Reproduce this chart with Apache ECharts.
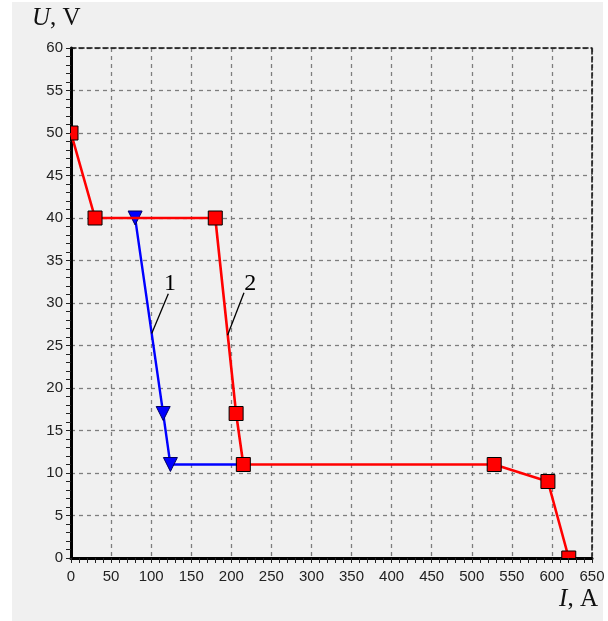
<!DOCTYPE html>
<html>
<head>
<meta charset="utf-8">
<script src="https://cdn.jsdelivr.net/npm/echarts@6/dist/echarts.min.js"></script>
<style>
html,body{margin:0;padding:0;background:#ffffff;}
#bg{position:absolute;left:12px;top:2px;width:591px;height:619px;background:#f0f0f0;}
#chart{position:absolute;left:0;top:0;width:608px;height:621px;}
</style>
</head>
<body>
<div id="bg"></div>
<div id="chart"></div>
<script>
// ---- data ----
const xTicksMin = 0, xTicksMax = 650, xTickStep = 50;
const yTicksMin = 0, yTicksMax = 60, yTickStep = 5;

// curve 1 (blue, inverted triangles) : I (A), U (V)
const curve1I = [80, 115, 124, 215];
const curve1U = [40, 17, 11, 11];
const curve1Marked = [true, true, true, false];

// curve 2 (red, squares)
const curve2I = [0, 30, 180, 206, 215, 528, 595, 621];
const curve2U = [50, 40, 40, 17, 11, 11, 9, 0];

// annotation labels and leader lines (data coordinates)
const annLabels = ['1', '2'];
const annTextPos = [[123.5, 32.3], [223.5, 32.3]];
const annLineFrom = [[121.4, 31.1], [215.8, 31.2]];
const annLineTo = [[100.7, 26.4], [195.3, 26.2]];

const xName = 'I';
const xUnit = ', A';
const yName = 'U';
const yUnit = ', V';

// ---- chart ----
const chart = echarts.init(document.getElementById('chart'), null, {renderer: 'canvas'});

const blueData = curve1I.map((x, i) => curve1Marked[i]
  ? {value: [x, curve1U[i]]}
  : {value: [x, curve1U[i]], symbol: 'none'});
const redData = curve2I.map((x, i) => [x, curve2U[i]]);
const annData = annLabels.map((l, i) => [annTextPos[i][0], annTextPos[i][1],
  annLineFrom[i][0], annLineFrom[i][1], annLineTo[i][0], annLineTo[i][1]]);

const tickLabelStyle = {fontFamily: '"Liberation Sans", Arial, sans-serif', fontSize: 15, color: '#222'};
const gridLine = {show: true, lineStyle: {color: '#7e7e7e', width: 1.3, type: [4, 4]}};
const serif = '"Liberation Serif", "Times New Roman", serif';

const option = {
  animation: false,
  backgroundColor: 'transparent',
  grid: {left: 71, top: 48, right: 16, bottom: 63, containLabel: false},
  xAxis: [{
    type: 'value', min: xTicksMin, max: xTicksMax, interval: xTickStep,
    axisLine: {show: true, onZero: false, lineStyle: {color: '#000', width: 3}},
    axisTick: {show: true, length: 5, lineStyle: {color: '#222', width: 1}},
    minorTick: {show: true, splitNumber: 5, length: 5, lineStyle: {color: '#222', width: 1}},
    axisLabel: Object.assign({margin: 11}, tickLabelStyle),
    splitLine: gridLine
  }, {
    type: 'value', position: 'top', min: xTicksMin, max: xTicksMax, interval: xTickStep,
    axisLine: {show: true, onZero: false, lineStyle: {color: '#111', width: 1.5, type: [5, 3]}},
    axisTick: {show: false}, axisLabel: {show: false}, splitLine: {show: false}
  }],
  yAxis: [{
    type: 'value', min: yTicksMin, max: yTicksMax, interval: yTickStep,
    axisLine: {show: true, onZero: false, lineStyle: {color: '#000', width: 3}},
    axisTick: {show: true, length: 5, lineStyle: {color: '#222', width: 1}},
    minorTick: {show: true, splitNumber: 5, length: 5, lineStyle: {color: '#222', width: 1}},
    axisLabel: Object.assign({margin: 8}, tickLabelStyle),
    splitLine: gridLine
  }, {
    type: 'value', position: 'right', min: yTicksMin, max: yTicksMax, interval: yTickStep,
    axisLine: {show: true, onZero: false, lineStyle: {color: '#111', width: 1.5, type: [5, 3]}},
    axisTick: {show: false}, axisLabel: {show: false}, splitLine: {show: false}
  }],
  graphic: [{
    type: 'text', left: 32, top: 6,
    style: {
      text: '{i|' + yName + '}{r|' + yUnit + '}',
      rich: {
        i: {fontFamily: serif, fontStyle: 'italic', fontSize: 25, fill: '#111'},
        r: {fontFamily: serif, fontSize: 25, fill: '#111'}
      }
    }
  }, {
    type: 'text', right: 10, top: 587,
    style: {
      text: '{i|' + xName + '}{r|' + xUnit + '}',
      rich: {
        i: {fontFamily: serif, fontStyle: 'italic', fontSize: 25, fill: '#111'},
        r: {fontFamily: serif, fontSize: 25, fill: '#111'}
      }
    }
  }],
  series: [{
    name: '1', type: 'line', data: blueData, z: 2,
    symbol: 'triangle', symbolRotate: 180, symbolSize: 14,
    itemStyle: {color: '#0000ff', borderColor: '#000060', borderWidth: 1},
    lineStyle: {color: '#0000ff', width: 2.4},
    showSymbol: true, clip: true
  }, {
    name: '2', type: 'line', data: redData, z: 3,
    symbol: 'none',
    lineStyle: {color: '#ff0000', width: 2.6},
    clip: true
  }, {
    name: '2m', type: 'custom', data: redData, z: 4, clip: true,
    renderItem: function (params, api) {
      const p = api.coord([api.value(0), api.value(1)]);
      const cs = params.coordSys;
      const r = echarts.graphic.clipRectByRect(
        {x: p[0] - 7, y: p[1] - 7, width: 14, height: 14},
        {x: cs.x - 0.5, y: cs.y - 0.5, width: cs.width + 1, height: cs.height + 1});
      if (!r) return null;
      return {type: 'rect', shape: r,
        style: {fill: '#ff0000', stroke: '#000', lineWidth: 1}};
    }
  }, {
    name: 'ann', type: 'custom', data: annData, z: 5, clip: false,
    renderItem: function (params, api) {
      const t = api.coord([api.value(0), api.value(1)]);
      const a = api.coord([api.value(2), api.value(3)]);
      const b = api.coord([api.value(4), api.value(5)]);
      return {type: 'group', children: [
        {type: 'line', shape: {x1: a[0], y1: a[1], x2: b[0], y2: b[1]}, style: {stroke: '#000', lineWidth: 1.3}},
        {type: 'text', x: t[0], y: t[1], style: {text: annLabels[params.dataIndex], fontFamily: serif, fontSize: 24, fill: '#000', align: 'center', verticalAlign: 'middle'}}
      ]};
    }
  }]
};
chart.setOption(option);
</script>
</body>
</html>
